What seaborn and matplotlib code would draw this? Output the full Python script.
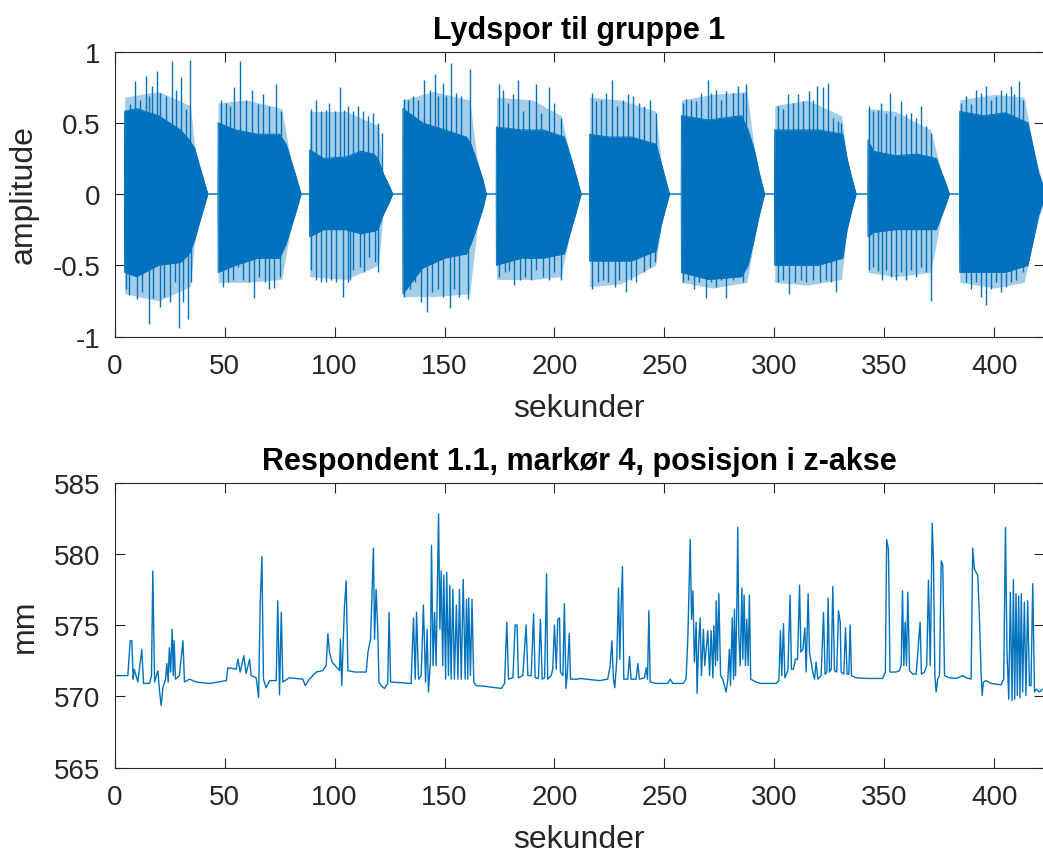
import matplotlib
matplotlib.use("Agg")
import matplotlib.pyplot as plt
import seaborn as sns

# ------------------------------------------------------------------ data
# Top panel: audio track, read as core envelope (dense part) per segment
env_t = [4.5, 4.6, 10, 20, 30, 34, 36.5, 38.6, 40.9, 42.4,
         47.0, 47.1, 55, 65, 75, 78, 80, 82, 84.8,
         88.6, 88.7, 95, 105, 112, 118, 119.7, 122, 124.5, 126.5,
         131.0, 131.1, 140, 150, 160, 162, 165, 167.5, 169.0,
         173.5, 173.6, 185, 195, 204.5, 207, 210, 212.1,
         215.9, 216.0, 225, 235, 246.2, 248.5, 250.5, 252.3,
         257.6, 257.7, 270, 285, 288, 291, 293, 295.5,
         300.0, 300.1, 310, 320, 331, 333, 335, 337.1,
         342.4, 342.5, 345, 355, 365, 373.5, 376, 378, 379.5,
         384.1, 384.2, 395, 405, 415.2, 418, 420, 422.3]
env_hi = [0, 0.58, 0.6, 0.55, 0.45, 0.38, 0.32, 0.2, 0.08, 0,
          0, 0.5, 0.45, 0.42, 0.42, 0.35, 0.25, 0.15, 0,
          0, 0.31, 0.25, 0.26, 0.3, 0.28, 0.25, 0.15, 0.07, 0,
          0, 0.6, 0.5, 0.45, 0.4, 0.35, 0.22, 0.1, 0,
          0, 0.47, 0.45, 0.45, 0.4, 0.28, 0.12, 0,
          0, 0.42, 0.4, 0.4, 0.35, 0.22, 0.1, 0,
          0, 0.55, 0.52, 0.55, 0.45, 0.3, 0.15, 0,
          0, 0.45, 0.45, 0.45, 0.42, 0.25, 0.12, 0,
          0, 0.38, 0.3, 0.27, 0.28, 0.25, 0.15, 0.07, 0,
          0, 0.58, 0.55, 0.57, 0.5, 0.3, 0.15, 0.05]
env_lo = [0, -0.55, -0.58, -0.5, -0.48, -0.42, -0.32, -0.2, -0.08, 0,
          0, -0.55, -0.5, -0.45, -0.45, -0.35, -0.25, -0.15, 0,
          0, -0.3, -0.25, -0.25, -0.28, -0.26, -0.25, -0.15, -0.07, 0,
          0, -0.7, -0.52, -0.45, -0.42, -0.35, -0.22, -0.1, 0,
          0, -0.5, -0.45, -0.45, -0.42, -0.28, -0.12, 0,
          0, -0.47, -0.47, -0.47, -0.4, -0.22, -0.1, 0,
          0, -0.55, -0.6, -0.58, -0.5, -0.3, -0.15, 0,
          0, -0.5, -0.5, -0.5, -0.45, -0.25, -0.12, 0,
          0, -0.3, -0.27, -0.25, -0.25, -0.25, -0.15, -0.07, 0,
          0, -0.55, -0.55, -0.55, -0.5, -0.3, -0.15, -0.05]

# fringe of closely packed peaks around the dense part
fringe_t = [4.5, 4.6, 20, 34.5, 36.5, 42.4,
            47.0, 47.1, 60, 76, 80, 84.8,
            88.6, 88.7, 105, 120, 122, 126.5,
            131.0, 131.1, 145, 161.5, 165, 169.0,
            173.5, 173.6, 190, 203, 207, 212.1,
            215.9, 216.0, 230, 246, 248.5, 252.3,
            257.6, 257.7, 272, 287.5, 291, 295.5,
            300.0, 300.1, 315, 330.5, 333, 337.1,
            342.4, 342.5, 355, 371, 376, 379.5,
            384.1, 384.2, 400, 413.5, 418, 422.3]
fringe_hi = [0, 0.68, 0.72, 0.62, 0.32, 0,
             0, 0.64, 0.66, 0.6, 0.25, 0,
             0, 0.58, 0.58, 0.48, 0.15, 0,
             0, 0.66, 0.72, 0.66, 0.22, 0,
             0, 0.68, 0.66, 0.55, 0.28, 0,
             0, 0.68, 0.66, 0.58, 0.22, 0,
             0, 0.66, 0.7, 0.72, 0.3, 0,
             0, 0.62, 0.66, 0.55, 0.25, 0,
             0, 0.6, 0.58, 0.45, 0.15, 0,
             0, 0.66, 0.7, 0.68, 0.3, 0.05]
fringe_lo = [0, -0.7, -0.75, -0.65, -0.32, 0,
             0, -0.62, -0.62, -0.6, -0.25, 0,
             0, -0.58, -0.6, -0.5, -0.15, 0,
             0, -0.72, -0.72, -0.7, -0.22, 0,
             0, -0.6, -0.6, -0.58, -0.28, 0,
             0, -0.65, -0.63, -0.5, -0.22, 0,
             0, -0.62, -0.66, -0.62, -0.3, 0,
             0, -0.62, -0.64, -0.6, -0.25, 0,
             0, -0.55, -0.58, -0.55, -0.15, 0,
             0, -0.62, -0.66, -0.62, -0.3, -0.05]

# individual peaks that stick out of the dense part
spike_up_t = [5.0, 7.1, 9.4, 11.7, 14.1, 15.6, 17.1, 19.4, 20.8, 23.2, 26.2, 28.0, 30.3, 32.3, 34.4,
              48.5, 50.8, 52.6, 54.5, 57.1, 59.8, 62.6, 65.2, 67.4, 70.2, 73.2, 75.8,
              89.4, 91.7, 93.9, 96.2, 97.7, 100.0, 102.3, 104.5, 106.1, 108.3, 110.6, 112.9, 115.2, 117.4, 119.7, 121.5,
              131.8, 133.3, 135.6, 137.9, 140.9, 143.2, 145.5, 147.0, 149.2, 150.8, 153.0, 155.3, 157.6, 161.4,
              174.6, 176.5, 178.8, 181.1, 183.3, 185.6, 188.6, 191.7, 193.9, 197.3, 200.0, 203.0,
              217.1, 218.9, 221.2, 223.5, 226.1, 228.3, 231.1, 233.3, 235.6, 238.3, 240.9, 243.5, 246.2,
              258.3, 259.8, 262.1, 264.4, 266.7, 269.7, 271.2, 273.5, 275.8, 278.0, 281.1, 283.3, 285.6, 287.1,
              301.5, 303.8, 306.1, 308.3, 310.6, 312.9, 315.9, 317.4, 319.4, 321.9, 324.2, 326.5, 328.8, 330.3,
              342.9, 344.7, 347.0, 348.5, 350.5, 352.6, 355.0, 357.6, 359.8, 362.1, 364.4, 366.7, 368.9, 371.2,
              384.8, 387.1, 389.4, 391.7, 394.0, 396.2, 398.5, 400.8, 403.0, 405.3, 407.6, 409.1, 411.0, 412.9]
spike_up_v = [0.59, 0.63, 0.79, 0.66, 0.83, 0.69, 0.76, 0.86, 0.71, 0.69, 0.93, 0.73, 0.82, 0.60, 0.94,
              0.66, 0.64, 0.62, 0.75, 0.93, 0.66, 0.73, 0.63, 0.70, 0.62, 0.77, 0.58,
              0.60, 0.66, 0.58, 0.59, 0.64, 0.58, 0.75, 0.59, 0.62, 0.58, 0.62, 0.58, 0.55, 0.57, 0.50, 0.43,
              0.67, 0.66, 0.69, 0.66, 0.80, 0.73, 0.84, 0.69, 0.78, 0.69, 0.92, 0.71, 0.69, 0.88,
              0.77, 0.73, 0.64, 0.70, 0.80, 0.58, 0.66, 0.77, 0.57, 0.75, 0.64, 0.53,
              0.71, 0.65, 0.66, 0.71, 0.80, 0.62, 0.66, 0.70, 0.69, 0.64, 0.62, 0.66, 0.57,
              0.64, 0.67, 0.66, 0.65, 0.71, 0.80, 0.71, 0.73, 0.66, 0.72, 0.71, 0.76, 0.71, 0.77,
              0.62, 0.60, 0.70, 0.64, 0.70, 0.65, 0.72, 0.66, 0.76, 0.75, 0.78, 0.53, 0.51, 0.50,
              0.62, 0.58, 0.59, 0.64, 0.57, 0.71, 0.55, 0.65, 0.56, 0.57, 0.53, 0.62, 0.48, 0.43,
              0.64, 0.69, 0.63, 0.73, 0.71, 0.76, 0.66, 0.69, 0.73, 0.71, 0.76, 0.70, 0.79, 0.66]
spike_dn_t = [5.3, 6.8, 10.2, 12.4, 15.5, 17.4, 20.5, 22.7, 25.0, 27.3, 29.2, 31.1, 33.5, 34.8,
              49.2, 51.5, 53.8, 56.1, 58.3, 61.1, 63.2, 65.9, 68.2, 70.2, 72.7, 75.0,
              89.4, 91.7, 93.9, 96.2, 98.5, 100.8, 103.8, 106.1, 107.0, 108.3, 111.4, 113.6, 115.9, 118.2, 119.7,
              131.8, 134.1, 136.4, 139.4, 142.1, 144.2, 147.0, 149.2, 152.3, 154.5, 156.8, 160.6,
              175.0, 177.3, 179.5, 181.8, 184.1, 186.4, 189.4, 191.7, 194.7, 197.3, 200.0, 203.0,
              217.1, 219.7, 222.0, 224.2, 227.3, 229.5, 232.3, 234.8, 237.1, 240.5, 243.2, 245.5,
              258.3, 260.6, 263.6, 265.9, 268.9, 271.2, 273.5, 275.8, 278.0, 281.1, 283.3, 285.6,
              301.5, 304.1, 306.8, 309.5, 312.1, 314.4, 317.4, 320.5, 323.5, 325.8, 328.0, 330.3,
              342.9, 345.0, 347.0, 349.0, 350.8, 353.0, 355.3, 357.6, 359.8, 362.1, 364.4, 366.7, 368.9, 371.2,
              384.8, 387.1, 389.4, 391.7, 394.0, 396.2, 398.5, 400.8, 403.0, 405.3, 407.6, 409.6, 412.9]
spike_dn_v = [-0.67, -0.71, -0.74, -0.69, -0.91, -0.73, -0.79, -0.72, -0.76, -0.62, -0.94, -0.76, -0.88, -0.62,
              -0.65, -0.62, -0.60, -0.51, -0.60, -0.62, -0.73, -0.58, -0.62, -0.67, -0.66, -0.58,
              -0.53, -0.60, -0.62, -0.62, -0.60, -0.62, -0.72, -0.62, -0.60, -0.53, -0.51, -0.55, -0.44, -0.48, -0.55,
              -0.72, -0.67, -0.62, -0.76, -0.83, -0.69, -0.67, -0.72, -0.80, -0.67, -0.72, -0.74,
              -0.58, -0.55, -0.54, -0.64, -0.60, -0.58, -0.60, -0.53, -0.58, -0.60, -0.55, -0.60,
              -0.67, -0.62, -0.60, -0.62, -0.65, -0.60, -0.69, -0.60, -0.62, -0.55, -0.51, -0.48,
              -0.62, -0.60, -0.67, -0.62, -0.73, -0.62, -0.65, -0.60, -0.73, -0.60, -0.58, -0.62,
              -0.62, -0.60, -0.70, -0.62, -0.60, -0.62, -0.60, -0.62, -0.60, -0.62, -0.69, -0.44,
              -0.53, -0.51, -0.54, -0.60, -0.53, -0.58, -0.60, -0.55, -0.60, -0.53, -0.58, -0.51, -0.55, -0.75,
              -0.55, -0.62, -0.67, -0.62, -0.72, -0.78, -0.67, -0.62, -0.69, -0.65, -0.62, -0.60, -0.55]

# Bottom panel: marker 4, z position (mm)
z_t = [0.0, 6.06, 7.12, 7.88, 8.48, 8.94, 10.6, 12.4, 13.2, 15.9, 16.8, 17.4, 18.2, 19.7, 20.5, 21.2, 22.0,
       23.2, 23.8, 24.4, 24.9, 25.5, 26.2, 26.7, 27.1, 27.7, 29.5, 31.1, 31.8, 34.1, 37.1, 43.2, 50.8, 51.5,
       55.3, 56.1, 57.1, 58.8, 59.8, 61.4, 62.1, 64.4, 65.5, 66.2, 67.0, 67.7, 68.9, 70.5, 73.5, 74.2, 75.0,
       75.8, 76.5, 79.5, 85.6, 86.7, 88.6, 91.7, 94.7, 96.2, 97.0, 97.7, 98.9, 102.3, 102.7, 103.3, 104.5,
       105.3, 106.1, 109.1, 114.4, 115.2, 116.4, 117.7, 118.2, 118.9, 119.7, 120.2, 121.2, 122.7, 124.2,
       124.8, 125.5, 134.8, 135.9, 136.7, 137.3, 138.2, 139.4, 140.4, 141.4, 142.1, 142.7, 143.6, 144.1,
       144.8, 145.5, 146.2, 147.3, 147.9, 148.5, 149.2, 149.7, 150.5, 151.0, 151.8, 152.4, 153.0, 153.8,
       154.5, 155.4, 156.1, 156.8, 157.6, 158.5, 159.4, 160.0, 160.6, 161.0, 161.8, 162.5, 163.3, 164.4,
       168.2, 175.8, 177.3, 178.3, 179.1, 181.1, 182.1, 183.0, 183.6, 185.6, 187.1, 187.9, 189.4, 190.5,
       191.2, 192.7, 193.6, 194.4, 195.5, 196.4, 196.9, 198.5, 199.2, 200.0, 200.8, 201.5, 202.3, 202.7,
       203.8, 204.5, 205.2, 205.8, 206.7, 207.3, 210.6, 211.4, 220.5, 224.2, 225.3, 226.1, 226.8, 227.4,
       228.3, 229.1, 229.7, 230.3, 230.9, 231.5, 233.3, 234.1, 234.8, 237.1, 237.9, 238.6, 240.9, 241.7,
       242.3, 242.9, 243.5, 246.2, 251.5, 252.6, 253.8, 258.4, 259.8, 260.6, 261.7, 262.3, 262.9, 263.6,
       264.4, 264.8, 265.5, 266.2, 266.8, 267.7, 268.3, 269.7, 270.5, 271.2, 272.0, 272.4, 273.2, 273.5,
       274.1, 274.7, 275.5, 276.5, 278.0, 278.8, 279.5, 280.0, 280.8, 281.4, 281.8, 282.3, 282.9, 283.3,
       283.8, 284.4, 285.2, 285.6, 286.2, 286.8, 287.4, 288.0, 288.6, 289.2, 291.6, 293.9, 300.8, 302.0,
       302.7, 303.3, 304.1, 304.7, 306.1, 307.1, 307.7, 308.6, 309.5, 310.5, 311.4, 312.0, 312.9, 313.8,
       314.4, 315.3, 315.9, 317.4, 318.2, 318.9, 319.7, 321.2, 322.3, 323.0, 323.8, 324.4, 325.0, 325.8,
       326.5, 327.3, 328.3, 329.1, 329.9, 330.3, 331.5, 332.3, 333.0, 333.8, 334.4, 335.0, 337.1, 341.7,
       349.2, 350.4, 351.0, 351.8, 352.5, 355.3, 356.8, 357.6, 358.2, 358.8, 359.4, 360.0, 360.6, 361.4,
       362.9, 364.4, 366.2, 366.8, 368.2, 369.2, 370.0, 370.8, 371.7, 372.3, 372.9, 373.5, 374.2, 375.0,
       375.8, 376.5, 377.3, 379.5, 382.6, 385.6, 387.1, 389.4, 390.1, 390.9, 391.7, 392.4, 393.2, 393.9,
       394.4, 395.0, 396.2, 398.5, 403.0, 404.2, 405.0, 405.7, 406.5, 407.2, 408.0, 408.6, 409.2, 409.8,
       410.4, 411.0, 411.6, 412.2, 412.8, 413.6, 414.3, 415.1, 415.9, 416.6, 417.4, 418.2, 418.9, 420.5,
       421.8]
z_mm = [571.45, 571.45, 573.9, 573.9, 571.2, 571.9, 571.0, 573.3, 570.9, 570.9, 571.45, 578.8, 571.0, 571.8,
        570.3, 569.35, 570.6, 571.2, 572.3, 571.0, 573.4, 571.7, 574.7, 571.45, 573.9, 571.2, 571.45, 573.9,
        571.0, 571.2, 571.0, 570.9, 571.1, 572.0, 571.9, 572.6, 571.7, 572.85, 571.6, 572.6, 571.45, 571.3,
        569.9, 576.4, 579.8, 571.2, 570.6, 571.1, 571.1, 576.7, 570.1, 575.9, 571.0, 571.3, 571.2, 570.75,
        571.2, 571.7, 571.8, 572.15, 574.4, 573.1, 572.4, 571.8, 574.0, 570.75, 576.2, 578.1, 571.8, 571.7,
        571.7, 573.1, 574.0, 580.4, 574.0, 577.5, 574.5, 571.0, 570.75, 570.55, 570.9, 575.9, 571.0, 570.9,
        575.5, 571.2, 575.9, 571.2, 571.45, 576.4, 571.0, 574.7, 570.3, 572.4, 580.6, 572.15, 575.9, 572.15,
        582.8, 574.7, 578.8, 572.15, 578.5, 571.2, 578.7, 571.45, 577.8, 571.2, 577.5, 571.2, 576.4, 571.2,
        577.5, 571.2, 578.2, 571.2, 576.8, 571.2, 576.9, 571.45, 576.8, 571.0, 570.75, 570.7, 570.55, 570.9,
        575.2, 571.2, 571.3, 575.0, 575.0, 571.3, 571.45, 575.0, 571.45, 571.45, 575.8, 571.3, 571.25, 575.4,
        571.2, 571.3, 578.6, 571.2, 571.45, 571.9, 575.0, 571.9, 575.4, 575.5, 571.7, 571.45, 576.5, 570.55,
        571.45, 574.4, 571.2, 571.2, 571.25, 571.1, 571.2, 572.15, 573.9, 571.2, 570.6, 572.5, 577.6, 572.6,
        576.4, 579.1, 571.2, 571.2, 572.8, 571.2, 571.2, 572.3, 571.2, 571.3, 572.0, 571.2, 576.0, 571.0,
        570.9, 570.9, 571.2, 570.9, 570.9, 571.2, 574.0, 581.0, 575.4, 577.4, 572.4, 575.2, 570.2, 573.55,
        575.5, 571.45, 574.7, 572.15, 574.6, 571.45, 574.6, 571.3, 574.95, 572.15, 576.7, 572.5, 577.2,
        571.45, 571.2, 570.3, 571.2, 573.3, 570.75, 575.5, 571.2, 576.1, 571.45, 576.2, 581.85, 574.25,
        572.15, 577.6, 572.6, 577.1, 572.15, 575.4, 572.15, 577.1, 571.2, 571.0, 570.9, 570.9, 571.1, 574.6,
        571.45, 575.1, 571.3, 571.8, 577.1, 571.9, 571.9, 572.6, 572.6, 577.8, 573.1, 573.3, 574.8, 571.7,
        577.2, 573.1, 571.7, 571.2, 572.4, 571.2, 571.45, 575.9, 571.55, 571.7, 576.9, 571.7, 571.9, 577.7,
        571.8, 571.7, 576.0, 575.2, 571.7, 571.55, 574.8, 571.55, 571.55, 575.0, 571.45, 571.3, 571.25,
        571.25, 571.7, 581.0, 580.3, 571.7, 571.7, 571.8, 572.15, 577.4, 572.15, 575.2, 572.15, 577.3, 571.8,
        571.55, 571.55, 575.2, 571.55, 571.7, 572.15, 578.15, 572.15, 582.15, 579.4, 571.45, 570.3, 571.2,
        571.45, 579.5, 579.2, 571.45, 571.3, 571.25, 571.45, 571.3, 571.2, 580.4, 578.9, 578.7, 578.5, 575.4,
        571.7, 570.05, 571.0, 571.1, 570.9, 570.8, 571.2, 581.85, 573.1, 569.8, 577.3, 569.7, 578.2, 569.8,
        577.2, 570.05, 577.05, 569.9, 577.2, 570.3, 576.6, 570.05, 576.7, 570.75, 570.75, 577.9, 570.3, 570.5,
        570.3, 570.5]

x_ticks = [0, 50, 100, 150, 200, 250, 300, 350, 400]
amp_ticks = [-1, -0.5, 0, 0.5, 1]
amp_tick_labels = ["-1", "-0.5", "0", "0.5", "1"]
mm_ticks = [565, 570, 575, 580, 585]
mm_tick_labels = ["565", "570", "575", "580", "585"]

title_top = "Lydspor til gruppe 1"
title_bottom = "Respondent 1.1, markør 4, posisjon i z-akse"
xlabel = "sekunder"
ylabel_top = "amplitude"
ylabel_bottom = "mm"

# ------------------------------------------------------------------ style
BLUE = "#0072BD"
DARK = "#262626"
sns.set_theme(style="white")
plt.rcParams["font.family"] = ["Liberation Sans", "DejaVu Sans"]
plt.rcParams["axes.unicode_minus"] = False

fig = plt.figure(figsize=(10.43, 8.54), dpi=100)
ax1 = fig.add_axes([0.1098, 0.6048, 0.8907, 0.3337])
ax2 = fig.add_axes([0.1098, 0.1001, 0.8907, 0.3337])

# ---- top panel
ax1.fill_between(fringe_t, fringe_lo, fringe_hi, color=BLUE, alpha=0.35, linewidth=0)
ax1.fill_between(env_t, env_lo, env_hi, color=BLUE, linewidth=0)
ax1.vlines(spike_up_t, 0, spike_up_v, color=BLUE, linewidth=1.0)
ax1.vlines(spike_dn_t, 0, spike_dn_v, color=BLUE, linewidth=1.0)
sns.lineplot(x=env_t, y=env_hi, ax=ax1, color=BLUE, linewidth=0.7, sort=False, estimator=None)
sns.lineplot(x=env_t, y=env_lo, ax=ax1, color=BLUE, linewidth=0.7, sort=False, estimator=None)

# ---- bottom panel
sns.lineplot(x=z_t, y=z_mm, ax=ax2, color=BLUE, linewidth=1.0, sort=False, estimator=None)

TICK_FS = 20
LABEL_FS = 23
TITLE_FS = 22

for ax, yt, ytl, yl, ttl, ylim in [
        (ax1, amp_ticks, amp_tick_labels, ylabel_top, title_top, (-1, 1)),
        (ax2, mm_ticks, mm_tick_labels, ylabel_bottom, title_bottom, (565, 585))]:
    ax.set_xlim(0, 422.3)
    ax.set_ylim(*ylim)
    ax.set_xticks(x_ticks)
    ax.set_xticklabels([str(v) for v in x_ticks])
    ax.set_yticks(yt)
    ax.set_yticklabels(ytl)
    ax.tick_params(direction="in", length=7, width=0.8, color=DARK, labelcolor=DARK,
                   labelsize=TICK_FS, top=True, right=True, bottom=True, left=True)
    ax.tick_params(axis="x", pad=12)
    ax.tick_params(axis="y", pad=10)
    for s in ax.spines.values():
        s.set_color(DARK)
        s.set_linewidth(0.8)
        s.set_visible(True)
    ax.set_xlabel(xlabel, fontsize=LABEL_FS, color=DARK, labelpad=10)
    ax.set_ylabel(yl, fontsize=LABEL_FS, color=DARK, labelpad=10)
    ax.set_title(ttl, fontsize=TITLE_FS, fontweight="bold", color="black", pad=10)
    ax.grid(False)
    ax.set_facecolor("white")

fig.savefig("out.png", dpi=100, facecolor="white")
